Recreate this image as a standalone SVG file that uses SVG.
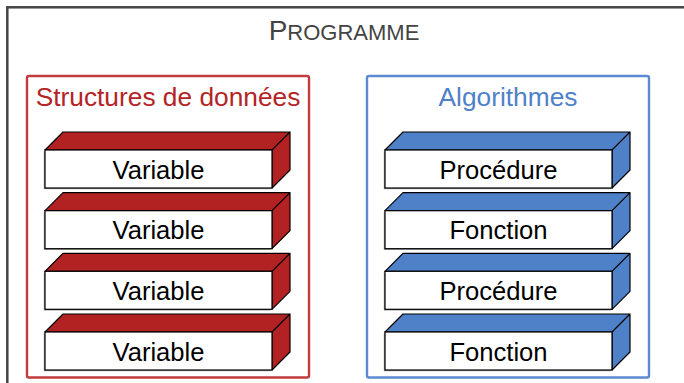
<svg xmlns="http://www.w3.org/2000/svg" width="684" height="383" viewBox="0 0 684 383">
<style>
.lbl{font-family:"Liberation Sans",Arial,sans-serif;text-anchor:middle}
.blk text{font-family:"Liberation Sans",Arial,sans-serif;font-size:25.6px;fill:#000;text-anchor:middle}
.front{fill:#fff;stroke:#000;stroke-width:1.2}
.r .face{fill:#B22222;stroke:#000;stroke-width:1.2;stroke-linejoin:round}
.b .face{fill:#4F81C8;stroke:#000;stroke-width:1.2;stroke-linejoin:round}
.shadow{fill:#999}
</style>
<rect width="684" height="383" fill="#fff"/>
<g id="programme">
<rect x="7.3" y="7.3" width="700" height="400" fill="none" stroke="#444" stroke-width="2.5"/>
<text class="lbl" x="344" y="40" fill="#444"><tspan font-size="28">P</tspan><tspan font-size="22">ROGRAMME</tspan></text>
</g>
<g id="structures">
<rect x="27" y="76" width="282" height="301.5" rx="2" fill="none" stroke="#C23B3D" stroke-width="2.4"/>
<text class="lbl" x="168" y="106" font-size="26.3" fill="#B42426">Structures de données</text>
</g>
<g id="algorithmes">
<rect x="367" y="76" width="282" height="301.5" rx="2" fill="none" stroke="#5B8AD2" stroke-width="2.4"/>
<text class="lbl" x="508" y="106" font-size="26.3" fill="#4F81C8">Algorithmes</text>
</g>
<g id="var1" class="blk r" transform="translate(45,150)">
<rect class="shadow" x="-1.2" y="1.2" width="227" height="38"/>
<path class="face" d="M0,0 L18,-18 L245,-18 L227,0 Z M227,0 L245,-18 L245,20 L227,38 Z"/>
<rect class="front" x="0" y="0" width="227" height="38"/>
<text x="113.5" y="28.5">Variable</text>
</g>
<g id="var2" class="blk r" transform="translate(45,210.7)">
<rect class="shadow" x="-1.2" y="1.2" width="227" height="38"/>
<path class="face" d="M0,0 L18,-18 L245,-18 L227,0 Z M227,0 L245,-18 L245,20 L227,38 Z"/>
<rect class="front" x="0" y="0" width="227" height="38"/>
<text x="113.5" y="28.5">Variable</text>
</g>
<g id="var3" class="blk r" transform="translate(45,271.3)">
<rect class="shadow" x="-1.2" y="1.2" width="227" height="38"/>
<path class="face" d="M0,0 L18,-18 L245,-18 L227,0 Z M227,0 L245,-18 L245,20 L227,38 Z"/>
<rect class="front" x="0" y="0" width="227" height="38"/>
<text x="113.5" y="28.5">Variable</text>
</g>
<g id="var4" class="blk r" transform="translate(45,332)">
<rect class="shadow" x="-1.2" y="1.2" width="227" height="38"/>
<path class="face" d="M0,0 L18,-18 L245,-18 L227,0 Z M227,0 L245,-18 L245,20 L227,38 Z"/>
<rect class="front" x="0" y="0" width="227" height="38"/>
<text x="113.5" y="28.5">Variable</text>
</g>
<g id="proc1" class="blk b" transform="translate(385,150)">
<rect class="shadow" x="-1.2" y="1.2" width="227" height="38"/>
<path class="face" d="M0,0 L18,-18 L245,-18 L227,0 Z M227,0 L245,-18 L245,20 L227,38 Z"/>
<rect class="front" x="0" y="0" width="227" height="38"/>
<text x="113.5" y="28.5">Procédure</text>
</g>
<g id="fonc1" class="blk b" transform="translate(385,210.7)">
<rect class="shadow" x="-1.2" y="1.2" width="227" height="38"/>
<path class="face" d="M0,0 L18,-18 L245,-18 L227,0 Z M227,0 L245,-18 L245,20 L227,38 Z"/>
<rect class="front" x="0" y="0" width="227" height="38"/>
<text x="113.5" y="28.5">Fonction</text>
</g>
<g id="proc2" class="blk b" transform="translate(385,271.3)">
<rect class="shadow" x="-1.2" y="1.2" width="227" height="38"/>
<path class="face" d="M0,0 L18,-18 L245,-18 L227,0 Z M227,0 L245,-18 L245,20 L227,38 Z"/>
<rect class="front" x="0" y="0" width="227" height="38"/>
<text x="113.5" y="28.5">Procédure</text>
</g>
<g id="fonc2" class="blk b" transform="translate(385,332)">
<rect class="shadow" x="-1.2" y="1.2" width="227" height="38"/>
<path class="face" d="M0,0 L18,-18 L245,-18 L227,0 Z M227,0 L245,-18 L245,20 L227,38 Z"/>
<rect class="front" x="0" y="0" width="227" height="38"/>
<text x="113.5" y="28.5">Fonction</text>
</g>
<g id="connectors"></g>
</svg>
